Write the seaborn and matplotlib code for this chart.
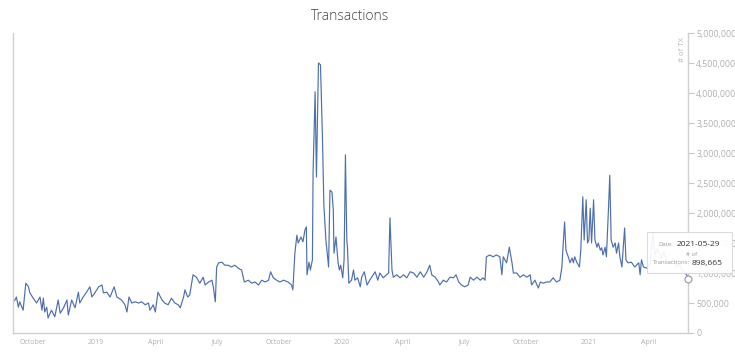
import matplotlib
matplotlib.use("Agg")
import matplotlib.pyplot as plt
import matplotlib.ticker as mticker
from matplotlib.patches import FancyBboxPatch
import numpy as np
import pandas as pd
import seaborn as sns

# ---------------- data ----------------
start_date = "2018-09-01"
# days since start_date
day_offsets = [
    0, 3, 5, 8, 10, 15, 19, 23, 25, 30, 35, 40, 43, 45, 47, 50, 52, 57, 62, 67,
    70, 75, 80, 82, 87, 92, 97, 99, 104, 109, 114, 117, 122, 127, 132, 134, 139, 144, 150, 154,
    161, 166, 169, 172, 176, 181, 186, 191, 196, 201, 203, 208, 211, 215, 221, 225, 230, 235, 240, 245,
    248, 253, 255, 259, 262, 267, 272, 277, 282, 285, 290, 295, 297, 300, 302, 305, 310, 314, 319, 324,
    329, 334, 339, 343, 349, 354, 359, 364, 369, 374, 379, 382, 386, 391, 396, 401, 408, 413, 415, 418,
    421, 423, 427, 430, 433, 435, 436, 439, 441, 444, 445, 448, 450, 453, 456, 459, 461, 464, 468, 470,
    473, 475, 476, 479, 482, 484, 486, 489, 491, 493, 495, 496, 498, 502, 505, 507, 511, 515, 517, 521,
    525, 529, 537, 541, 544, 549, 554, 557, 559, 562, 564, 569, 574, 579, 584, 589, 594, 599, 604, 609,
    614, 618, 621, 626, 631, 633, 638, 643, 648, 653, 657, 661, 665, 670, 675, 678, 683, 688, 693, 697,
    700, 702, 707, 712, 717, 722, 725, 727, 732, 736, 740, 742, 747, 752, 757, 762, 767, 769, 774, 779,
    782, 786, 791, 796, 801, 806, 811, 814, 816, 818, 820, 824, 826, 829, 831, 833, 836, 840, 842, 845,
    847, 850, 852, 854, 856, 858, 861, 863, 866, 868, 871, 873, 875, 878, 880, 883, 885, 887, 890, 893,
    895, 898, 900, 903, 905, 907, 909, 912, 917, 922, 928, 930, 932, 935, 940, 945, 949, 952, 956, 961,
    965, 970, 975, 979, 984, 988, 992, 997, 1000, 1001,
]
# number of transactions, thousands
tx_thousands = [
    520, 550, 600, 430, 520, 380, 830, 770, 670, 580, 500, 600, 380, 580, 350, 430, 250, 380, 270, 550,
    330, 420, 550, 300, 550, 420, 680, 500, 600, 680, 770, 600, 680, 770, 800, 670, 680, 600, 770, 600,
    550, 470, 350, 600, 500, 520, 500, 520, 470, 500, 380, 470, 350, 680, 550, 500, 470, 580, 500, 470,
    420, 600, 720, 600, 630, 970, 930, 830, 930, 800, 850, 880, 770, 520, 1100, 1170, 1180, 1130, 1130, 1100,
    1130, 1080, 1050, 850, 880, 830, 850, 800, 880, 850, 880, 1020, 920, 880, 850, 880, 850, 800, 720, 1330,
    1630, 1500, 1600, 1520, 1720, 1770, 970, 1180, 1050, 1220, 2670, 4020, 2600, 4500, 4470, 3220, 2130, 1550, 1100, 2380,
    2350, 2050, 1330, 1600, 1180, 1050, 1130, 920, 1220, 2970, 1550, 1430, 830, 880, 1050, 880, 920, 770, 930, 1020,
    800, 880, 1020, 880, 1000, 920, 970, 1000, 1920, 1050, 930, 970, 920, 970, 920, 1020, 1000, 930, 1020, 930,
    1020, 1130, 970, 930, 850, 800, 880, 850, 930, 920, 970, 850, 800, 770, 800, 930, 880, 930, 880, 920,
    880, 1270, 1300, 1270, 1300, 1270, 970, 1270, 1170, 1430, 1170, 1000, 1000, 930, 970, 930, 970, 800, 880, 750,
    850, 830, 850, 850, 920, 850, 880, 1100, 1500, 1850, 1380, 1250, 1170, 1250, 1170, 1270, 1180, 1100, 1380, 2270,
    1550, 2220, 1500, 1550, 2080, 1500, 2220, 1550, 1430, 1500, 1380, 1420, 1300, 1430, 1270, 2050, 2630, 1550, 1430, 1500,
    1330, 1500, 1270, 1100, 1430, 1750, 1220, 1170, 1180, 1100, 1170, 970, 1220, 1100, 1080, 1150, 1670, 1300, 1400, 1250,
    1350, 1200, 1150, 1250, 1100, 1150, 1050, 1000, 950, 898.665,
]
x_tick_dates = ["2018-10-01", "2019-01-01", "2019-04-01", "2019-07-01", "2019-10-01",
                "2020-01-01", "2020-04-01", "2020-07-01", "2020-10-01", "2021-01-01", "2021-04-01"]
x_tick_labels = ["October", "2019", "April", "July", "October",
                 "2020", "April", "July", "October", "2021", "April"]
y_ticks = [0, 500000, 1000000, 1500000, 2000000, 2500000, 3000000, 3500000, 4000000, 4500000, 5000000]
title_text = "Transactions"
y_label_text = "# of TX"
tooltip_date = "2021-05-29"
tooltip_value = "898,665"

# ---------------- build frame ----------------
dates = pd.to_datetime(start_date) + pd.to_timedelta(day_offsets, unit="D")
df = pd.DataFrame({"date": dates, "tx": np.array(tx_thousands) * 1000.0})

sns.set_theme(style="white")
plt.rcParams["font.family"] = ["Open Sans", "DejaVu Sans"]

W, H = 735, 357
fig = plt.figure(figsize=(W / 100, H / 100), dpi=100)
ax = fig.add_axes([13 / W, 24 / H, 675 / W, 300 / H])

line_color = "#4c6fae"
sns.lineplot(data=df, x="date", y="tx", ax=ax, color=line_color, linewidth=0.85)

ax.set_xlim(pd.to_datetime(start_date), dates[-1])
ax.set_ylim(0, 5000000)

# axes styling
ax.yaxis.tick_right()
ax.set_yticks(y_ticks)
ax.yaxis.set_major_formatter(mticker.FuncFormatter(lambda v, p: f"{int(v):,}"))
ax.set_xticks(pd.to_datetime(x_tick_dates))
ax.set_xticklabels(x_tick_labels)
ax.tick_params(axis="y", which="both", right=True, left=False, length=4, width=0.8,
               color="#c8c8c8", labelcolor="#b0b0b0", labelsize=6.3, pad=2)
ax.tick_params(axis="x", which="both", bottom=False, length=0,
               labelcolor="#b0b0b0", labelsize=5.0, pad=4)
ax.set_xlabel("")
ax.set_ylabel("")
for side in ["left", "right", "bottom"]:
    ax.spines[side].set_visible(True)
    ax.spines[side].set_color("#d0d0d0")
    ax.spines[side].set_linewidth(1.0)
ax.spines["top"].set_visible(False)
ax.grid(False)

# y-axis label inside, near top-right
ax.text(0.9925, 0.985, y_label_text, transform=ax.transAxes, rotation=90,
        ha="center", va="top", fontsize=5.6, color="#b8b8b8")

# title
fig.text(0.476, 1 - 17 / H, title_text, ha="center", va="center", fontsize=10,
         color="#444444", fontweight="light")

# hover marker at the last point
ax.plot(dates[-1:], df["tx"].values[-1:], marker="o", markersize=5, mfc="white",
        mec="#a0a0a0", mew=0.9, clip_on=False, zorder=5)

# tooltip box
box = FancyBboxPatch((647 / W, 1 - 273 / H), 85 / W, 41 / H, transform=fig.transFigure,
                     boxstyle="square,pad=0", facecolor="white", alpha=0.92,
                     edgecolor="#d8d8d8", linewidth=0.8, zorder=10)
fig.patches.append(box)
fig.text(673 / W, 1 - 244 / H, "Date:", ha="right", va="center", fontsize=4.3, color="#999999", zorder=11)
fig.text(677 / W, 1 - 244 / H, tooltip_date, ha="left", va="center", fontsize=6.0, color="#333333", zorder=11)
fig.text(692 / W, 1 - 254 / H, "# of", ha="center", va="center", fontsize=4.3, color="#999999", zorder=11)
fig.text(690 / W, 1 - 263 / H, "Transactions:", ha="right", va="center", fontsize=4.3, color="#999999", zorder=11)
fig.text(692 / W, 1 - 263 / H, tooltip_value, ha="left", va="center", fontsize=6.0, color="#333333", zorder=11)

fig.savefig("out.png", dpi=100)
